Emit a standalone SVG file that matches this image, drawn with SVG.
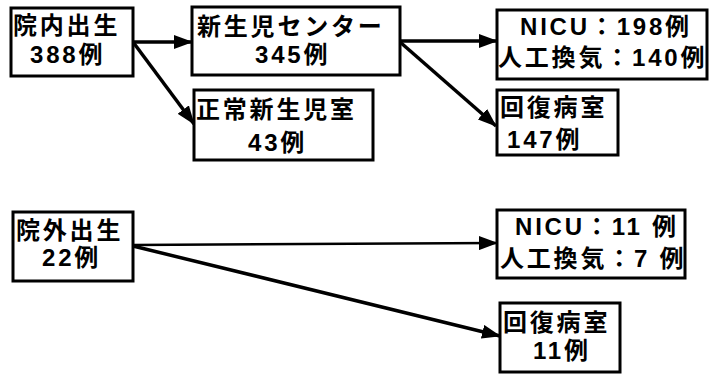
<svg xmlns="http://www.w3.org/2000/svg" width="720" height="374" viewBox="0 0 720 374">
<style>
.box{fill:#fff;stroke:#000;stroke-width:3}
.t{font-family:"Liberation Sans","Noto Sans CJK JP",sans-serif;font-weight:bold;font-size:24px;letter-spacing:2.8px;fill:#000}
.c{stroke:#000;fill:none}
.thick{stroke-width:3.5}
.thin{stroke-width:2.5}
</style>
<defs>
<marker id="ah" markerUnits="userSpaceOnUse" markerWidth="19" markerHeight="14" refX="18" refY="7" orient="auto">
<path d="M0,0 L19,7 L0,14 z" fill="#000"/>
</marker>
</defs>
<rect width="720" height="374" fill="#fff"/>
<g id="connectors">
<line class="c thick" x1="133" y1="42" x2="192" y2="42" marker-end="url(#ah)"/>
<line class="c thick" x1="133" y1="42" x2="194" y2="124" marker-end="url(#ah)"/>
<line class="c thick" x1="400" y1="41" x2="497" y2="41" marker-end="url(#ah)"/>
<line class="c thick" x1="400" y1="42" x2="496" y2="126" marker-end="url(#ah)"/>
<line class="c thin" x1="133" y1="245" x2="497" y2="243" marker-end="url(#ah)"/>
<line class="c thick" x1="133" y1="246" x2="500" y2="336" marker-end="url(#ah)"/>
</g>
<g id="n1">
<rect class="box" x="11" y="8" width="122" height="68"/>
<text class="t" x="13" y="34">院内出生</text>
<text class="t" x="30" y="63">388例</text>
</g>
<g id="n2">
<rect class="box" x="192" y="7" width="208" height="68"/>
<text class="t" x="197" y="35">新生児センター</text>
<text class="t" x="255" y="63">345例</text>
</g>
<g id="n3">
<rect class="box" x="194" y="90" width="179" height="70"/>
<text class="t" x="196" y="118">正常新生児室</text>
<text class="t" x="248" y="151">43例</text>
</g>
<g id="n4">
<rect class="box" x="497" y="10" width="210" height="69"/>
<text class="t" x="520" y="35">NICU：198例</text>
<text class="t" x="498" y="66">人工換気：140例</text>
</g>
<g id="n5">
<rect class="box" x="497" y="90" width="121" height="65"/>
<text class="t" x="500" y="116">回復病室</text>
<text class="t" x="507" y="148">147例</text>
</g>
<g id="n6">
<rect class="box" x="13" y="212" width="120" height="69"/>
<text class="t" x="16" y="239">院外出生</text>
<text class="t" x="42" y="266">22例</text>
</g>
<g id="n7">
<rect class="box" x="497" y="210" width="188" height="68"/>
<text class="t" x="515" y="235">NICU：11 例</text>
<text class="t" x="500" y="267">人工換気：7 例</text>
</g>
<g id="n8">
<rect class="box" x="500" y="303" width="120" height="69"/>
<text class="t" x="503" y="331">回復病室</text>
<text class="t" x="533" y="359">11例</text>
</g>
</svg>
